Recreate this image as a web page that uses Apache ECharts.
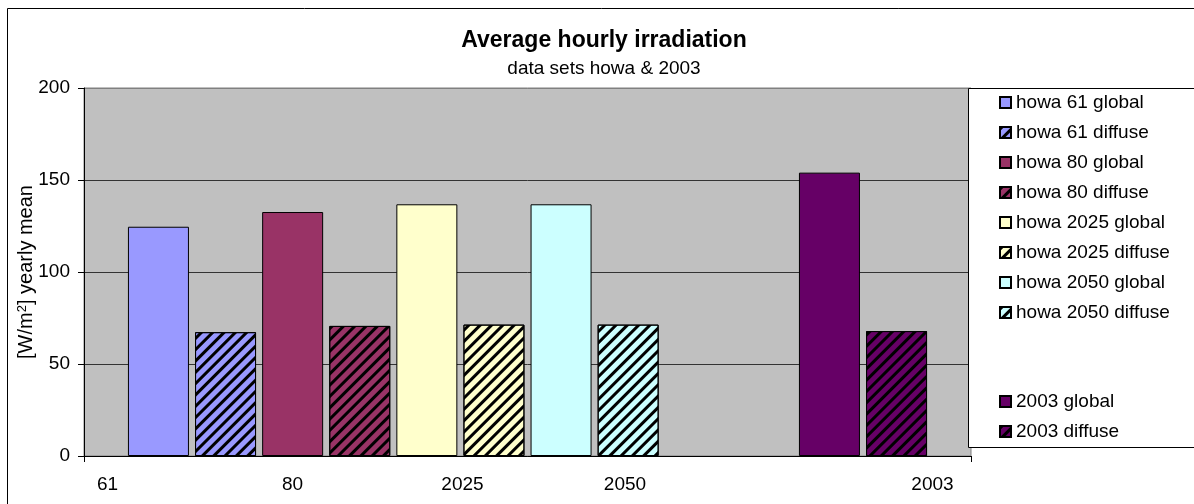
<!DOCTYPE html>
<html>
<head>
<meta charset="utf-8">
<script src="https://cdn.jsdelivr.net/npm/echarts@6/dist/echarts.min.js"></script>
<style>
html,body{margin:0;padding:0;background:#fff;}
#chart{width:1194px;height:504px;}
</style>
</head>
<body>
<div id="chart"></div>
<script>
// ---- data ----
var seriesNames = ['howa 61 global','howa 61 diffuse','howa 80 global','howa 80 diffuse',
  'howa 2025 global','howa 2025 diffuse','howa 2050 global','howa 2050 diffuse',
  'blank 1','blank 2','2003 global','2003 diffuse'];
var seriesValues = [124.6, 67.3, 132.6, 70.7, 136.8, 71.4, 136.8, 71.4, null, null, 154.0, 67.9];
var xTickLabels = ['61','80','2025','2050','2003'];
var yTicks = [0, 50, 100, 150, 200];

// ---- layout / style ----
// label centres as fractions of the plot width (84..971 px)
var xTickLabelPos = [0.0265, 0.2351, 0.4267, 0.6099, 0.9566];
var colors = ['#9999FF','#9999FF','#993366','#993366','#FFFFCC','#FFFFCC','#CCFFFF','#CCFFFF',
  '#C0C0C0','#C0C0C0','#660066','#660066'];
var FONT = "'Liberation Sans', Arial, sans-serif";

var hatch = {
  symbol: 'rect', symbolSize: 1,
  dashArrayX: [1, 0], dashArrayY: [3, 5],
  rotation: -Math.PI / 4, color: '#000'
};

var series = seriesNames.map(function (name, i) {
  var v = seriesValues[i];
  var isBlank = name.indexOf('blank') === 0;
  var s = {
    name: name, type: 'bar', xAxisIndex: 0,
    data: [v === null ? '-' : v],
    barWidth: 61, barGap: '10%',
    itemStyle: { color: colors[i], borderColor: '#000', borderWidth: 1 },
    emphasis: { disabled: true },
    silent: isBlank
  };
  if (name.indexOf('diffuse') >= 0) s.itemStyle.decal = hatch;
  return s;
});

var chart = echarts.init(document.getElementById('chart'), null, { renderer: 'canvas' });
chart.setOption({
  animation: false,
  backgroundColor: '#fff',
  textStyle: { fontFamily: FONT },
  title: {
    text: 'Average hourly irradiation',
    subtext: 'data sets howa & 2003',
    left: 604, textAlign: 'center', top: 29, itemGap: 7, padding: 0,
    textStyle: { fontFamily: FONT, fontSize: 23, fontWeight: 'bold', color: '#000' },
    subtextStyle: { fontFamily: FONT, fontSize: 19, color: '#000' }
  },
  graphic: [
    { type: 'rect', z: 0, shape: { x: 7.5, y: 8.5, width: 1300, height: 600 },
      style: { fill: 'none', stroke: '#000', lineWidth: 1 } },
    { type: 'rect', z: 1, shape: { x: 968.5, y: 88.5, width: 300, height: 359 },
      style: { fill: '#fff', stroke: '#000', lineWidth: 1 } }
  ],
  legend: [
    { data: seriesNames.slice(0, 8), orient: 'vertical', left: 999, top: 93, padding: 0,
      itemWidth: 11, itemHeight: 11, itemGap: 11, icon: 'rect', z: 5, selectedMode: false,
      textStyle: { fontFamily: FONT, fontSize: 19, color: '#000', lineHeight: 18 } },
    { data: seriesNames.slice(10), orient: 'vertical', left: 999, top: 392, padding: 0,
      itemWidth: 11, itemHeight: 11, itemGap: 11, icon: 'rect', z: 5, selectedMode: false,
      textStyle: { fontFamily: FONT, fontSize: 19, color: '#000', lineHeight: 18 } }
  ],
  grid: {
    left: 84, top: 88, right: 223, bottom: 48, containLabel: false,
    show: true, backgroundColor: '#C0C0C0', borderColor: '#808080', borderWidth: 1
  },
  xAxis: [
    { type: 'category', data: [''], boundaryGap: true,
      axisLine: { show: true, lineStyle: { color: '#000', width: 1 } },
      axisTick: { show: true, length: 6, lineStyle: { color: '#000' } },
      axisLabel: { show: false }, splitLine: { show: false } },
    { type: 'value', position: 'bottom', min: 0, max: 1,
      axisLine: { show: false }, axisTick: { show: false }, splitLine: { show: false },
      axisLabel: {
        show: true, customValues: xTickLabelPos, margin: 19,
        fontFamily: FONT, fontSize: 19, color: '#000',
        formatter: function (val, idx) {
          var k = xTickLabelPos.indexOf(val);
          return xTickLabels[k >= 0 ? k : idx];
        }
      } }
  ],
  yAxis: {
    type: 'value', min: yTicks[0], max: yTicks[yTicks.length - 1], interval: 50,
    name: '[W/m{sup|2}] yearly mean', nameLocation: 'middle', nameRotate: 90, nameGap: 48,
    nameMoveOverlap: false,
    nameTextStyle: { fontFamily: FONT, fontSize: 20, color: '#000', lineHeight: 20,
      rich: { sup: { fontFamily: FONT, fontSize: 13, color: '#000', verticalAlign: 'top', lineHeight: 12 } } },
    axisLine: { show: true, lineStyle: { color: '#000', width: 1 } },
    axisTick: { show: true, length: 6, lineStyle: { color: '#000' } },
    axisLabel: { fontFamily: FONT, fontSize: 19, color: '#000', margin: 14 },
    splitLine: { show: true, lineStyle: { color: ['#333','#333','#333','#333','#808080'], width: 1 } }
  },
  series: series
});
</script>
</body>
</html>
